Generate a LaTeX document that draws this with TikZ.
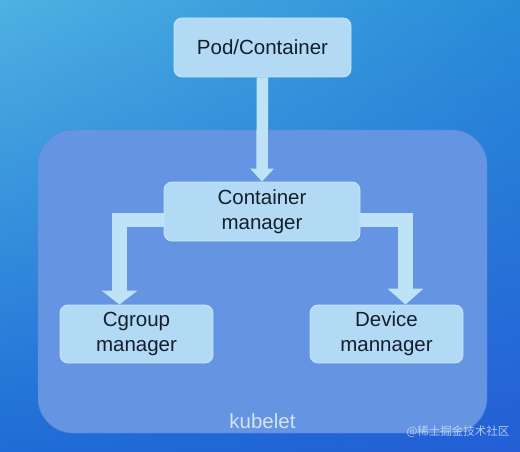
\documentclass[tikz,border=0pt]{standalone}
\usepackage{fontspec}
\setmainfont{Liberation Sans}
\newfontfamily\cjk{Noto Sans CJK SC}
\usepackage{tikz}
\usetikzlibrary{
  arrows.meta,
  calc,
  shadings
}
\definecolor{bgtl}{RGB}{78,178,226}
\definecolor{bgtr}{RGB}{40,140,216}
\definecolor{bgbl}{RGB}{30,108,214}
\definecolor{bgbr}{RGB}{36,94,214}
\definecolor{kubefill}{RGB}{100,148,226}
\definecolor{kubeline}{RGB}{88,134,214}
\definecolor{boxfill}{RGB}{178,218,245}
\definecolor{boxline}{RGB}{198,230,250}
\definecolor{arrowfill}{RGB}{190,226,246}
\definecolor{inkdark}{RGB}{22,30,44}
\definecolor{labelgray}{RGB}{214,226,245}

\begin{document}
\begin{tikzpicture}[x=1pt, y=-1pt,
  box/.style={draw=boxline, fill=boxfill, line width=0.8pt, rounded corners=8pt, text=inkdark,
    align=center, inner sep=0pt, font=\fontsize{20.5}{25}\selectfont},
  flow/.style={draw=arrowfill, line width=#1, line join=miter}]
  \useasboundingbox (0,0) rectangle (520,452);
  \shade[upper left=bgtl, upper right=bgtr, lower left=bgbl, lower right=bgbr] (0,0) rectangle (520,452);
  \node (kubelet) [draw=kubeline, fill=kubefill, rounded corners=35pt, minimum width=449pt, minimum height=303pt] at (262.5,281.5) {};
  \node (kubeletlabel) [text=labelgray, font=\fontsize{20.5}{25}\selectfont] at ($(kubelet.south)+(0,-12)$) {kubelet};
  \node (mark) [text=labelgray, opacity=0.8, font=\cjk\fontsize{11.5}{13}\selectfont] at (458,432) {@稀土掘金技术社区};

  \node (pod) [box, minimum width=177pt, minimum height=59pt] at (262.5,47.5) {Pod/Container};
  \node (cm) [box, minimum width=196pt, minimum height=59pt] at (262,211.5) {Container\\manager};
  \node (cg) [box, minimum width=153pt, minimum height=58pt] at (136.5,334) {Cgroup\\manager};
  \node (dev) [box, minimum width=153pt, minimum height=58pt] at (386.5,334) {Device\\mannager};

  \draw[flow=11.5pt, -{Triangle[width=23pt,length=13pt]}] (pod.south) -- (cm.north);
  \draw[flow=14.5pt, -{Triangle[width=35pt,length=14pt]}] ($(cm.west)+(0,8.5)$) -| ($(cg.north)+(-17,0)$);
  \draw[flow=14.5pt, -{Triangle[width=35pt,length=16pt]}] ($(cm.east)+(0,8.5)$) -| ($(dev.north)+(19,0)$);
\end{tikzpicture}
\end{document}
